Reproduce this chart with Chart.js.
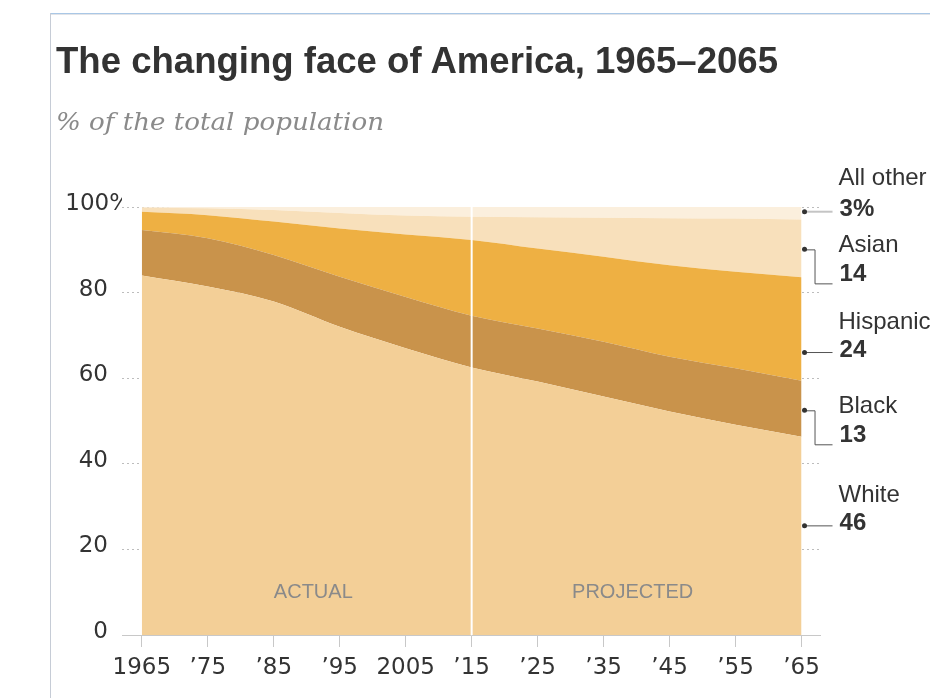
<!DOCTYPE html>
<html>
<head>
<meta charset="utf-8">
<script src="https://cdn.jsdelivr.net/npm/chart.js@4"></script>
<style>
  html, body { margin: 0; padding: 0; background: #fff; }
  #wrap { position: absolute; left: 0; top: 0; width: 930px; height: 698px; overflow: hidden; }
  #chartBox { position: absolute; left: 0; top: 0; width: 930px; height: 698px; }
  .frameTop { position: absolute; left: 50px; top: 13px; width: 880px; height: 1px; background: #a9c7e6; }
  .frameTop2 { position: absolute; left: 50px; top: 14px; width: 880px; height: 1px; background: #e2e4e8; }
  .frameLeft { position: absolute; left: 50px; top: 13px; width: 1px; height: 685px; background: #c6ccd6; }
  #title { position: absolute; left: 56px; top: 42px; font-family: "Liberation Sans", Arial, sans-serif; font-weight: bold; font-size: 37px; line-height: 37px; color: #333; white-space: nowrap; display: inline-block; transform-origin: 0 0; }
  #subtitle { position: absolute; left: 56px; top: 110px; font-family: "DejaVu Serif", serif; font-style: italic; font-size: 24px; line-height: 24px; color: #8a8a8a; white-space: nowrap; display: inline-block; transform-origin: 0 0; }
</style>
</head>
<body>
<div id="wrap">
  <div id="chartBox"><canvas id="c"></canvas></div>
  <div class="frameTop"></div>
  <div class="frameTop2"></div>
  <div class="frameLeft"></div>
  <div id="title">The changing face of America, 1965–2065</div>
  <div id="subtitle">% of the total population</div>
</div>
<script>
// ---- data (percent of total population) ----
const years = [1965, 1975, 1985, 1995, 2005, 2015, 2025, 2035, 2045, 2055, 2065];
const xTickLabels = ['1965', '\u201975', '\u201985', '\u201995', '2005', '\u201915', '\u201925', '\u201935', '\u201945', '\u201955', '\u201965'];
const white    = [84.0, 81.4, 77.9, 72.0, 67.0, 62.5, 59.2, 55.7, 52.2, 49.1, 46.3];
const black    = [10.6, 11.3, 10.9, 11.7, 12.0, 12.1, 12.4, 12.8, 12.8, 13.2, 13.1];
const hispanic = [ 4.3,  5.4,  7.8, 11.3, 14.6, 17.7, 18.7, 19.9, 21.4, 22.6, 24.2];
const asian    = [ 1.0,  1.6,  2.7,  3.6,  4.4,  5.4,  7.3,  9.1, 11.0, 12.4, 13.5];
const allOther = [ 0.1,  0.3,  0.7,  1.4,  2.0,  2.3,  2.4,  2.5,  2.6,  2.7,  2.9];
const yTickValues = [0, 20, 40, 60, 80, 100];
const yTickLabels = ['0', '20', '40', '60', '80', '100%'];
const seriesNames = ['White', 'Black', 'Hispanic', 'Asian', 'All other'];
const endValueLabels = ['46', '13', '24', '14', '3%'];
const calloutAnchors = [25.5, 52.5, 66.0, 90.1, 98.9];
const calloutStyles = ['straight', 'elbow', 'straight', 'elbow', 'straight'];
const dividerYear = 2015;
const phaseLabels = ['ACTUAL', 'PROJECTED'];
const phaseLabelYears = [1991, 2039.4];
const phaseLabelValue = 10;

const colors = ['#F3CF97', '#C9934B', '#EEB043', '#F8E0BB', '#FBEFDD'];
const seriesValues = [white, black, hispanic, asian, allOther];

const datasets = seriesValues.map((vals, i) => ({
  label: seriesNames[i],
  data: years.map((yr, j) => ({ x: yr, y: vals[j] })),
  backgroundColor: colors[i],
  borderColor: colors[i],
  borderWidth: 0,
  pointRadius: 0,
  fill: i === 0 ? 'origin' : '-1',
  cubicInterpolationMode: 'monotone'
}));

const decorPlugin = {
  id: 'decor',
  afterDatasetsDraw(chart) {
    const { ctx, scales: { x, y } } = chart;
    const dx = x.getPixelForValue(dividerYear);
    ctx.save();
    ctx.strokeStyle = '#ffffff';
    ctx.lineWidth = 2;
    ctx.beginPath();
    ctx.moveTo(dx, y.getPixelForValue(100));
    ctx.lineTo(dx, y.getPixelForValue(0));
    ctx.stroke();
    ctx.fillStyle = '#8a8a8a';
    ctx.font = '20px "Liberation Sans", Arial, sans-serif';
    ctx.textAlign = 'center';
    ctx.textBaseline = 'middle';
    phaseLabels.forEach((t, i) => {
      ctx.fillText(t, x.getPixelForValue(phaseLabelYears[i]), y.getPixelForValue(phaseLabelValue));
    });
    ctx.restore();
  },
  afterDraw(chart) {
    const { ctx, scales: { x, y } } = chart;
    const endX = x.getPixelForValue(years[years.length - 1]);
    const dotX = endX + 3;
    const lineEnd = endX + 31;
    const elbowX = endX + 13;
    const textX = endX + 37;
    ctx.save();
    seriesNames.forEach((name, i) => {
      const dy = y.getPixelForValue(calloutAnchors[i]);
      const style = calloutStyles[i];
      let nameY, valY;
      ctx.beginPath();
      if (style === 'straight') {
        ctx.strokeStyle = i === 4 ? '#c4c4c4' : '#555';
        ctx.lineWidth = i === 4 ? 2 : 1;
        ctx.moveTo(dotX, dy);
        ctx.lineTo(lineEnd, dy);
        nameY = dy - (i === 4 ? 33 : 30);
        valY = dy - 2;
      } else {
        ctx.strokeStyle = '#555';
        ctx.lineWidth = 1;
        ctx.moveTo(dotX, dy + 0.5);
        ctx.lineTo(elbowX + 0.5, dy + 0.5);
        ctx.lineTo(elbowX + 0.5, dy + 34.5);
        ctx.lineTo(lineEnd, dy + 34.5);
        nameY = dy - 4;
        valY = dy + 25;
      }
      ctx.stroke();
      ctx.fillStyle = '#333';
      ctx.beginPath();
      ctx.arc(dotX, dy, 2.5, 0, Math.PI * 2);
      ctx.fill();
      ctx.textAlign = 'left';
      ctx.textBaseline = 'middle';
      ctx.fillStyle = '#333';
      ctx.font = '24px "Liberation Sans", Arial, sans-serif';
      ctx.fillText(name, textX, nameY);
      ctx.font = 'bold 24px "Liberation Sans", Arial, sans-serif';
      ctx.fillText(endValueLabels[i], textX + 1, valY);
    });
    ctx.restore();
  }
};

new Chart(document.getElementById('c'), {
  type: 'line',
  data: { datasets },
  options: {
    responsive: true,
    maintainAspectRatio: false,
    animation: false,
    layout: { padding: { left: 0, right: 110, top: 207, bottom: 0 } },
    plugins: { legend: { display: false }, tooltip: { enabled: false }, title: { display: false } },
    elements: { line: { borderWidth: 0 } },
    scales: {
      x: {
        type: 'linear',
        min: 1962,
        max: 2067.8,
        afterBuildTicks: (s) => { s.ticks = years.map(v => ({ value: v })); },
        afterFit: (s) => { s.height = 63; },
        grid: { drawOnChartArea: false, drawTicks: true, tickLength: 12, tickColor: '#c8c8c8', tickWidth: 1 },
        border: { display: true, color: '#c8c8c8', width: 1 },
        ticks: {
          autoSkip: false,
          maxRotation: 0,
          padding: 7,
          color: '#333',
          font: { family: '"DejaVu Sans", sans-serif', size: 23 },
          callback: (v) => xTickLabels[years.indexOf(v)]
        }
      },
      y: {
        stacked: true,
        min: 0,
        max: 100,
        afterBuildTicks: (s) => { s.ticks = yTickValues.map(v => ({ value: v })); },
        afterFit: (s) => { s.width = 122; },
        grid: { drawTicks: false, color: '#bdbdbd', lineWidth: 1 },
        border: { display: false, dash: [2, 3] },
        ticks: {
          padding: -9,
          labelOffset: -3,
          color: '#333',
          font: { family: '"DejaVu Sans", sans-serif', size: 23 },
          callback: (v) => {
            const lbl = yTickLabels[yTickValues.indexOf(v)];
            return lbl.endsWith('%') ? lbl : lbl + '\u2003';
          }
        }
      }
    }
  },
  plugins: [decorPlugin]
});

function fitText(id, w) {
  const el = document.getElementById(id);
  const cur = el.getBoundingClientRect().width;
  if (cur > 0) el.style.transform = 'scaleX(' + (w / cur) + ')';
}
fitText('title', 722);
fitText('subtitle', 328);
</script>
</body>
</html>
